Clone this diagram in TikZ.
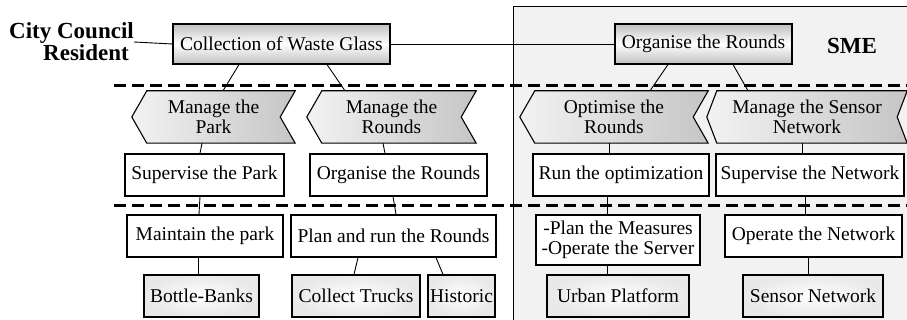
\documentclass[tikz,border=0pt]{standalone}
\usepackage{fontspec}
\setmainfont{Liberation Serif}
\pgfdeclarelayer{panel}
\pgfdeclarelayer{bg}
\pgfsetlayers{panel,bg,main}
\newcommand\chevpath[2]{%
  \begin{pgfonlayer}{bg}
  \path[chev] (#1.west) -- ([xshift=#2pt]#1.north west) -- (#1.north east)
     -- ([xshift=-#2pt]#1.east) -- (#1.south east) -- ([xshift=#2pt]#1.south west) -- cycle;
  \end{pgfonlayer}}
\begin{document}
\begin{tikzpicture}[x=1pt,y=-1pt,
  every node/.style={font=\rmfamily\fontsize{19.5}{20.5}\selectfont, inner sep=0pt, align=center},
  box/.style={draw, line width=1.1pt, fill=white},
  topbox/.style={draw, line width=1.1pt, top color=gray!50, bottom color=gray!50, middle color=white},
  leaf/.style={draw, line width=1.1pt, inner color=white, outer color=gray!18},
  chevtext/.style={minimum height=52pt},
  chev/.style={draw, line width=1.1pt, left color=gray!10, right color=gray!45},
  link/.style={line width=0.9pt},
  sepline/.style={line width=3pt, dash pattern=on 12pt off 6pt},
  lbl/.style={font=\rmfamily\fontsize{23}{22}\selectfont\bfseries},
  panelbox/.style={fill=gray!10, draw, line width=1pt}
]
\useasboundingbox (0,0) rectangle (907,320);
\begin{pgfonlayer}{panel}
\path[panelbox] (513,7) rectangle (915,330);
\end{pgfonlayer}

% separators
\coordinate (s1a) at (114,86); \coordinate (s1b) at (910,86);
\coordinate (s2a) at (114,206); \coordinate (s2b) at (910,206);
\draw[sepline] (s1a) -- (s1b);
\draw[sepline] (s2a) -- (s2b);

% labels
\node[lbl, anchor=east, align=right] (city) at (134,42) {City Council\\Resident\kern5pt};
\node[lbl] (sme) at (852,46) {SME};

% top row
\node[topbox, minimum width=217pt, minimum height=40pt] (coll) at (281.5,44) {Collection of Waste Glass};
\node[topbox, minimum width=177pt, minimum height=40pt] (org) at (703.5,44) {Organise the Rounds};

% chevrons
\node[chevtext, minimum width=163pt] (mp) at (213.5,117) {Manage the\\Park};
\node[chevtext, minimum width=169pt] (mr) at (391.5,117) {Manage the\\Rounds};
\node[chevtext, minimum width=188pt] (opt) at (614,117) {Optimise the\\Rounds};
\node[chevtext, minimum width=200pt] (msn) at (807,117) {Manage the Sensor\\Network};
\chevpath{mp}{15}
\chevpath{mr}{15}
\chevpath{opt}{15}
\chevpath{msn}{10}

% row 3
\node[box, minimum width=159pt, minimum height=42pt] (sp) at (204.5,175) {Supervise the Park};
\node[box, minimum width=177pt, minimum height=42pt] (or2) at (398.5,175) {Organise the Rounds};
\node[box, minimum width=176pt, minimum height=42pt] (ro) at (621,175) {Run the optimization};
\node[box, minimum width=188pt, minimum height=42pt] (sn) at (810,175) {Supervise the Network};

% row 4
\node[box, minimum width=156pt, minimum height=42pt] (mpk) at (205,236) {Maintain the park};
\node[box, minimum width=205pt, minimum height=42pt] (pr) at (393.5,236) {Plan and run the Rounds};
\node[box, minimum width=164pt, minimum height=50pt] (pm) at (618,240) {-Plan the Measures\\-Operate the Server};
\node[box, minimum width=177pt, minimum height=42pt] (on) at (813.5,236) {Operate the Network};

% row 5
\node[leaf, minimum width=115pt, minimum height=42pt] (bb) at (201.5,296) {Bottle-Banks};
\node[leaf, minimum width=128pt, minimum height=42pt] (ct) at (356,296) {Collect Trucks};
\node[leaf, minimum width=67pt, minimum height=42pt] (hi) at (461.5,296) {Historic};
\node[leaf, minimum width=142pt, minimum height=42pt] (up) at (618,296) {Urban Platform};
\node[leaf, minimum width=140pt, minimum height=42pt] (snw) at (813,296) {Sensor Network};

% connectors
\draw[link] (city.east) -- (coll.west);
\draw[link] (coll.east) -- (org.west);
\draw[link] ([xshift=-42.5pt]coll.south) -- ([xshift=9.5pt]mp.north);
\draw[link] ([xshift=45.5pt]coll.south) -- ([xshift=-46.5pt]mr.north);
\draw[link] ([xshift=-35.5pt]org.south) -- ([xshift=36pt]opt.north);
\draw[link] ([xshift=29.5pt]org.south) -- ([xshift=-59pt]msn.north);
\draw[link] ([xshift=-11.5pt]mp.south) -- ([xshift=-4.5pt]sp.north);
\draw[link] ([xshift=-8.5pt]mr.south) -- ([xshift=-13.5pt]or2.north);
\draw[link] ([xshift=-5pt]opt.south) -- ([xshift=-12pt]ro.north);
\draw[link] ([xshift=-5pt]msn.south) -- ([xshift=-8pt]sn.north);
\draw[link] ([xshift=-4.5pt]sp.south) -- ([xshift=-6pt]mpk.north);
\draw[link] ([xshift=-5.5pt]or2.south) -- ([xshift=2.5pt]pr.north);
\draw[link] ([xshift=-14pt]ro.south) -- ([xshift=-11pt]pm.north);
\draw[link] ([xshift=-5pt]sn.south) -- ([xshift=-8.5pt]on.north);
\draw[link] ([xshift=-7pt]mpk.south) -- ([xshift=-3.5pt]bb.north);
\draw[link] ([xshift=-35.5pt]pr.south) -- ([xshift=-2pt]ct.north);
\draw[link] ([xshift=42.5pt]pr.south) -- ([xshift=-18.5pt]hi.north);
\draw[link] ([xshift=-11pt]pm.south) -- ([xshift=-11pt]up.north);
\draw[link] ([xshift=-5.5pt]on.south) -- ([xshift=-5pt]snw.north);
\end{tikzpicture}
\end{document}
